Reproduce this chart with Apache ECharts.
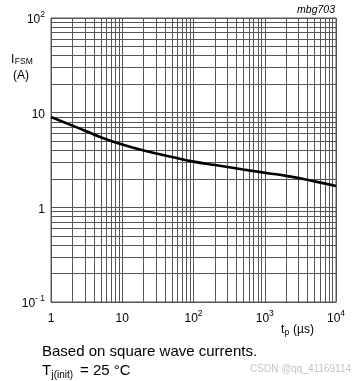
<!DOCTYPE html>
<html>
<head>
<meta charset="utf-8">
<script src="https://cdn.jsdelivr.net/npm/echarts@6/dist/echarts.min.js"></script>
<style>
html,body{margin:0;padding:0;background:#fff;}
#c{width:355px;height:381px;}
</style>
</head>
<body>
<div id="c"></div>
<script>
// Pulse duration t_p (µs) and surge current I_FSM (A)
var tp = [1, 2, 3, 5, 10, 20, 50, 100, 200, 500, 1000, 2000, 5000, 10000];
var ifsm = [9.0, 7.3, 6.45, 5.5, 4.6, 3.98, 3.4, 3.04, 2.8, 2.51, 2.32, 2.15, 1.88, 1.68];

// Tick labels: exponent -> [base text, superscript]
var xTickExps = [0, 1, 2, 3, 4];
var xTickBase = ['1', '10', '10', '10', '10'];
var xTickSup = ['', '', '2', '3', '4'];
var yTickExps = [-1, 0, 1, 2];
var yTickBase = ['10', '1', '10', '10'];
var yTickSup = ['- 1', '', '', '2'];

// Minor grid multipliers
var minorMult = [2, 3, 4, 5, 6, 7, 8, 9];
var xDecades = [1, 10, 100, 1000];
var yDecades = [0.1, 1, 10];

var gridColor = '#555555';
var font = 'Liberation Sans, Arial, sans-serif';

function labelFor(v, exps, base, sup) {
  var e = Math.round(Math.log10(v));
  var i = exps.indexOf(e);
  if (i < 0) return '';
  var s = '{base|' + base[i] + '}';
  if (sup[i]) s += '{sup|' + sup[i] + '}';
  return s;
}

var markData = [];
xDecades.forEach(function (d) {
  minorMult.forEach(function (m) { markData.push({ xAxis: d * m }); });
});
yDecades.forEach(function (d) {
  minorMult.forEach(function (m) { markData.push({ yAxis: d * m }); });
});

var tickRich = {
  base: { fontSize: 12, lineHeight: 16, verticalAlign: 'bottom', color: '#000', fontFamily: font },
  sup: { fontSize: 8.5, lineHeight: 8, verticalAlign: 'top', color: '#000', fontFamily: font }
};

function txt(x, y, s, size, extra) {
  var st = { text: s, fontSize: size, fontFamily: font, fill: '#000', align: 'left', verticalAlign: 'middle' };
  if (extra) for (var k in extra) st[k] = extra[k];
  return { type: 'text', x: x, y: y, style: st };
}

var chart = echarts.init(document.getElementById('c'), null, { renderer: 'canvas' });
chart.setOption({
  animation: false,
  backgroundColor: '#fff',
  grid: { left: 51, right: 19, top: 18, bottom: 79, show: true, borderColor: gridColor, borderWidth: 1 },
  xAxis: {
    type: 'log', logBase: 10, min: 1, max: 10000,
    axisLine: { show: true, lineStyle: { color: gridColor } },
    axisTick: { show: false },
    splitLine: { show: true, lineStyle: { color: gridColor, width: 1 } },
    axisLabel: {
      margin: 7,
      formatter: function (v) { return labelFor(v, xTickExps, xTickBase, xTickSup); },
      rich: tickRich
    }
  },
  yAxis: {
    type: 'log', logBase: 10, min: 0.1, max: 100,
    axisLine: { show: true, lineStyle: { color: gridColor } },
    axisTick: { show: false },
    splitLine: { show: true, lineStyle: { color: gridColor, width: 1 } },
    axisLabel: {
      margin: 6,
      formatter: function (v) { return labelFor(v, yTickExps, yTickBase, yTickSup); },
      rich: tickRich
    }
  },
  series: [{
    type: 'line',
    data: tp.map(function (t, i) { return [t, ifsm[i]]; }),
    smooth: 0.5,
    showSymbol: false,
    lineStyle: { color: '#000', width: 2.6 },
    z: 5,
    markLine: {
      silent: true,
      symbol: ['none', 'none'],
      label: { show: false },
      lineStyle: { color: gridColor, width: 1, type: 'solid' },
      data: markData,
      z: 1
    }
  }],
  graphic: [
    txt(11, 60, 'I', 12),
    txt(14.8, 62, 'FSM', 8.5),
    txt(13, 76, '(A)', 12),
    { type: 'text', right: 20, top: 5, style: { text: 'mbg703', fontSize: 10.5, fontStyle: 'italic', fontFamily: font, fill: '#000' } },
    txt(281, 330, 't', 12),
    txt(284.5, 333, 'p', 8.5),
    txt(293, 330, '(µs)', 12),
    txt(42, 352, 'Based on square wave currents.', 15),
    txt(42, 371, 'T', 15),
    txt(51.5, 375, 'j(init)', 10),
    txt(80, 371, '= 25 °C', 15),
    { type: 'text', right: 4, top: 364, style: { text: 'CSDN @qq_41169114', fontSize: 10, fontFamily: font, fill: '#c4c4c4' } }
  ]
});
</script>
</body>
</html>
